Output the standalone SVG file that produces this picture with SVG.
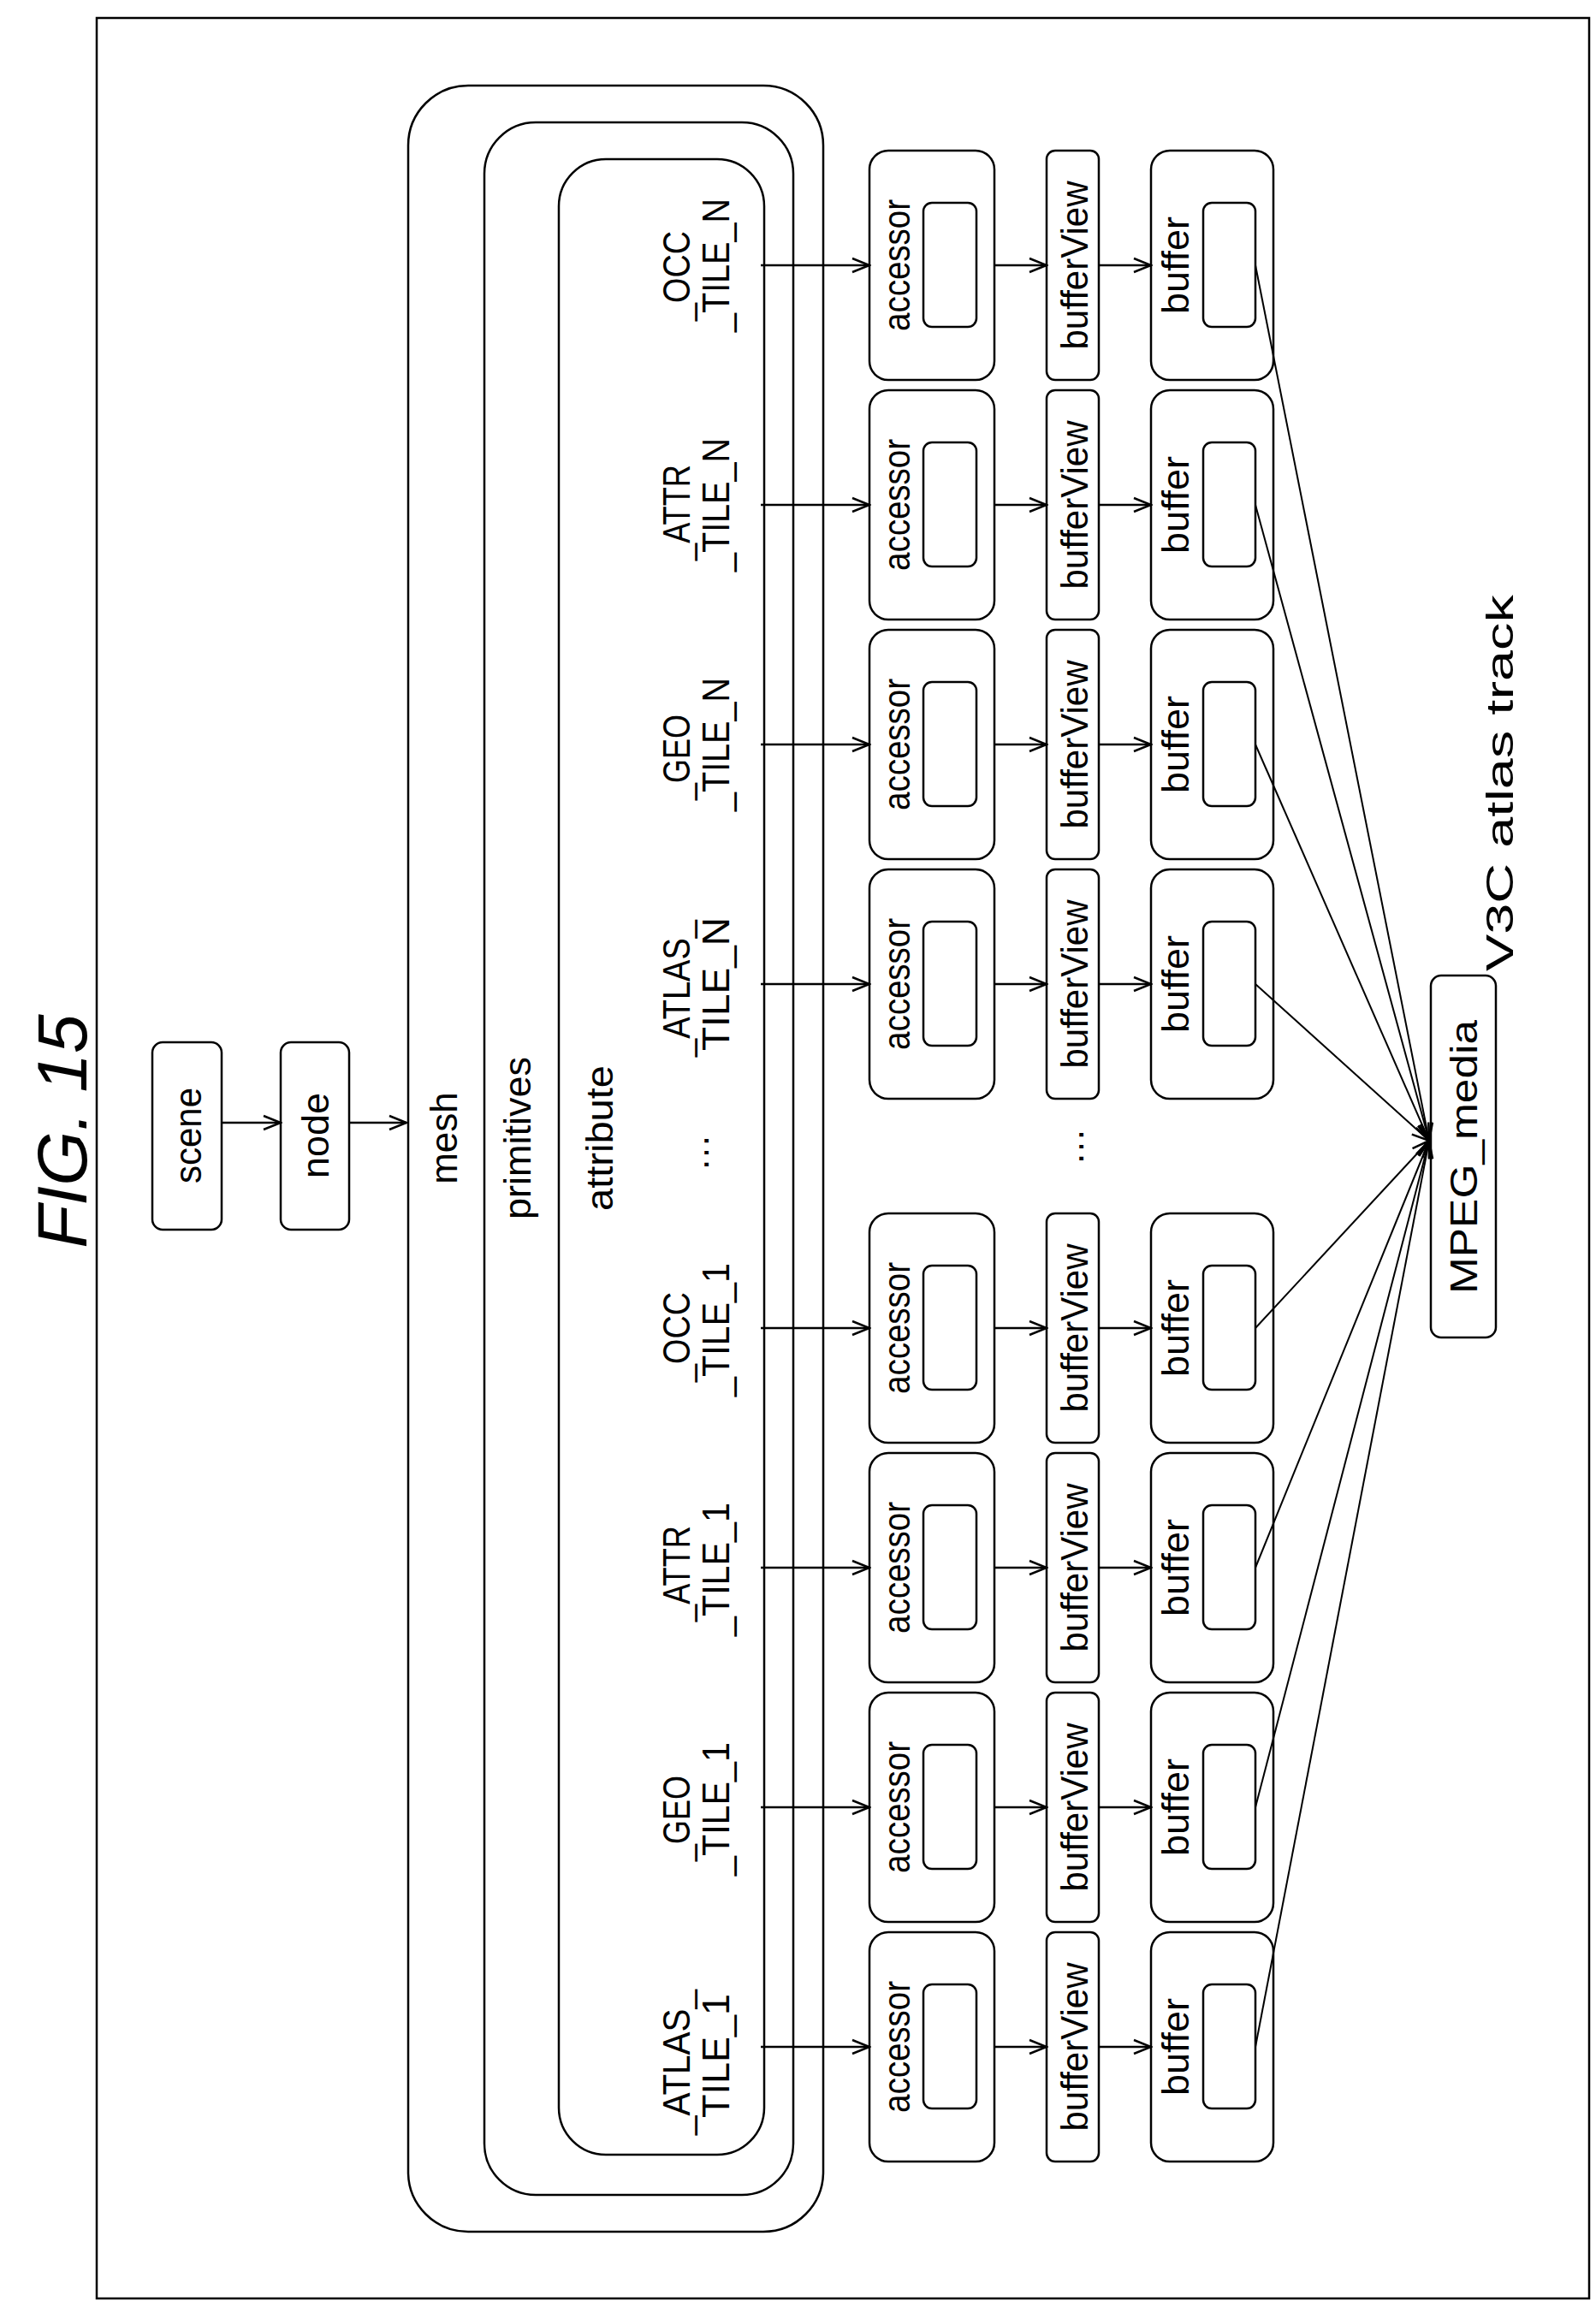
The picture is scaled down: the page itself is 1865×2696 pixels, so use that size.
<svg xmlns="http://www.w3.org/2000/svg" width="1865" height="2696" viewBox="0 0 1865 2696">
<style>
.b{fill:none;stroke:#000;stroke-width:2.5}
.t{font-family:"Liberation Sans",Arial,sans-serif;font-size:44px;fill:#000;dominant-baseline:central}
.c{stroke:#000;stroke-width:2.5;fill:none;marker-end:url(#a)}
.m{stroke:#000;stroke-width:2;fill:none;marker-end:url(#a)}
</style>
<defs>
<marker id="a" markerWidth="24" markerHeight="20" refX="22" refY="10" orient="auto" markerUnits="userSpaceOnUse">
<path d="M2,2 L22,10 L2,18" fill="none" stroke="#000" stroke-width="2.5"/>
</marker>
<g id="col">
<rect x="1016" y="176" width="146" height="268" rx="22" class="b"/><rect x="1079" y="237" width="62" height="145" rx="10" class="b"/><text transform="translate(1047,310) rotate(-90)" class="t" text-anchor="middle" textLength="154" lengthAdjust="spacingAndGlyphs">accessor</text><rect x="1223" y="176" width="61" height="268" rx="10" class="b"/><text transform="translate(1255,310) rotate(-90)" class="t" text-anchor="middle" textLength="197" lengthAdjust="spacingAndGlyphs">bufferView</text><rect x="1345" y="176" width="143" height="268" rx="22" class="b"/><rect x="1406" y="237" width="61" height="145" rx="10" class="b"/><text transform="translate(1373,310) rotate(-90)" class="t" text-anchor="middle" textLength="114" lengthAdjust="spacingAndGlyphs">buffer</text>
</g>
<g id="arr">
<path class="c" d="M889,310H1016"/><path class="c" d="M1162,310H1223"/><path class="c" d="M1284,310H1345"/>
</g>
</defs>
<rect width="1865" height="2696" fill="#fff"/>
<rect x="113" y="21" width="1744" height="2665" class="b"/>
<text transform="translate(72,1322) rotate(-90)" class="t" text-anchor="middle" style="font-size:82px;font-style:italic">FIG. 15</text>
<g id="scene"><rect x="178" y="1218" width="81" height="219" rx="12" class="b"/><text transform="translate(219,1327) rotate(-90)" class="t" text-anchor="middle" textLength="112" lengthAdjust="spacingAndGlyphs">scene</text></g>
<g id="node"><rect x="328" y="1218" width="80" height="219" rx="12" class="b"/><text transform="translate(368,1327) rotate(-90)" class="t" text-anchor="middle" textLength="100" lengthAdjust="spacingAndGlyphs">node</text></g>
<g id="mesh"><rect x="477" y="100" width="485" height="2508" rx="70" class="b"/><text transform="translate(518,1330) rotate(-90)" class="t" text-anchor="middle">mesh</text></g>
<g id="primitives"><rect x="566" y="143" width="361" height="2422" rx="60" class="b"/><text transform="translate(604,1330) rotate(-90)" class="t" text-anchor="middle" textLength="190" lengthAdjust="spacingAndGlyphs">primitives</text></g>
<g id="attribute"><rect x="653" y="186" width="240" height="2332" rx="55" class="b"/><text transform="translate(700,1330) rotate(-90)" class="t" text-anchor="middle" textLength="170" lengthAdjust="spacingAndGlyphs">attribute</text></g>
<g id="labels">
<text transform="translate(790,375) rotate(-90)" class="t" textLength="105" lengthAdjust="spacingAndGlyphs">_OCC</text>
<text transform="translate(836,388) rotate(-90)" class="t" textLength="156" lengthAdjust="spacingAndGlyphs">_TILE_N</text>
<text transform="translate(790,655) rotate(-90)" class="t" textLength="112" lengthAdjust="spacingAndGlyphs">_ATTR</text>
<text transform="translate(836,668) rotate(-90)" class="t" textLength="156" lengthAdjust="spacingAndGlyphs">_TILE_N</text>
<text transform="translate(790,935) rotate(-90)" class="t" textLength="100" lengthAdjust="spacingAndGlyphs">_GEO</text>
<text transform="translate(836,948) rotate(-90)" class="t" textLength="156" lengthAdjust="spacingAndGlyphs">_TILE_N</text>
<text transform="translate(790,1235) rotate(-90)" class="t" textLength="160" lengthAdjust="spacingAndGlyphs">_ATLAS_</text>
<text transform="translate(836,1228) rotate(-90)" class="t" textLength="156" lengthAdjust="spacingAndGlyphs">TILE_N</text>
<text transform="translate(812,1347) rotate(-90)" class="t" text-anchor="middle">…</text>
<text transform="translate(790,1615) rotate(-90)" class="t" textLength="105" lengthAdjust="spacingAndGlyphs">_OCC</text>
<text transform="translate(836,1632) rotate(-90)" class="t" textLength="156" lengthAdjust="spacingAndGlyphs">_TILE_1</text>
<text transform="translate(790,1895) rotate(-90)" class="t" textLength="112" lengthAdjust="spacingAndGlyphs">_ATTR</text>
<text transform="translate(836,1912) rotate(-90)" class="t" textLength="156" lengthAdjust="spacingAndGlyphs">_TILE_1</text>
<text transform="translate(790,2175) rotate(-90)" class="t" textLength="100" lengthAdjust="spacingAndGlyphs">_GEO</text>
<text transform="translate(836,2192) rotate(-90)" class="t" textLength="156" lengthAdjust="spacingAndGlyphs">_TILE_1</text>
<text transform="translate(790,2495) rotate(-90)" class="t" textLength="170" lengthAdjust="spacingAndGlyphs">_ATLAS_</text>
<text transform="translate(836,2475) rotate(-90)" class="t" textLength="145" lengthAdjust="spacingAndGlyphs">TILE_1</text>
</g>
<g id="columns">
<use href="#col"/>
<use href="#col" y="280"/>
<use href="#col" y="560"/>
<use href="#col" y="840"/>
<text transform="translate(1250,1340) rotate(-90)" class="t" text-anchor="middle">…</text>
<use href="#col" y="1242"/>
<use href="#col" y="1522"/>
<use href="#col" y="1802"/>
<use href="#col" y="2082"/>
</g>
<g id="MPEG_media"><rect x="1672" y="1140" width="76" height="423" rx="12" class="b"/><text transform="translate(1710,1352) rotate(-90)" class="t" text-anchor="middle" textLength="320" lengthAdjust="spacingAndGlyphs">MPEG_media</text></g>
<text transform="translate(1752,915) rotate(-90)" class="t" text-anchor="middle" textLength="440" lengthAdjust="spacingAndGlyphs">V3C atlas track</text>
<g id="connectors">
<path class="c" d="M259,1312H328"/><path class="c" d="M408,1312H475"/>
<use href="#arr"/>
<use href="#arr" y="280"/>
<use href="#arr" y="560"/>
<use href="#arr" y="840"/>
<use href="#arr" y="1242"/>
<use href="#arr" y="1522"/>
<use href="#arr" y="1802"/>
<use href="#arr" y="2082"/>
<path class="m" d="M1467,310L1670,1333"/>
<path class="m" d="M1467,590L1670,1333"/>
<path class="m" d="M1467,870L1670,1333"/>
<path class="m" d="M1467,1150L1670,1333"/>
<path class="m" d="M1467,1552L1670,1333"/>
<path class="m" d="M1467,1832L1670,1333"/>
<path class="m" d="M1467,2112L1670,1333"/>
<path class="m" d="M1467,2392L1670,1333"/>
</g>
</svg>
